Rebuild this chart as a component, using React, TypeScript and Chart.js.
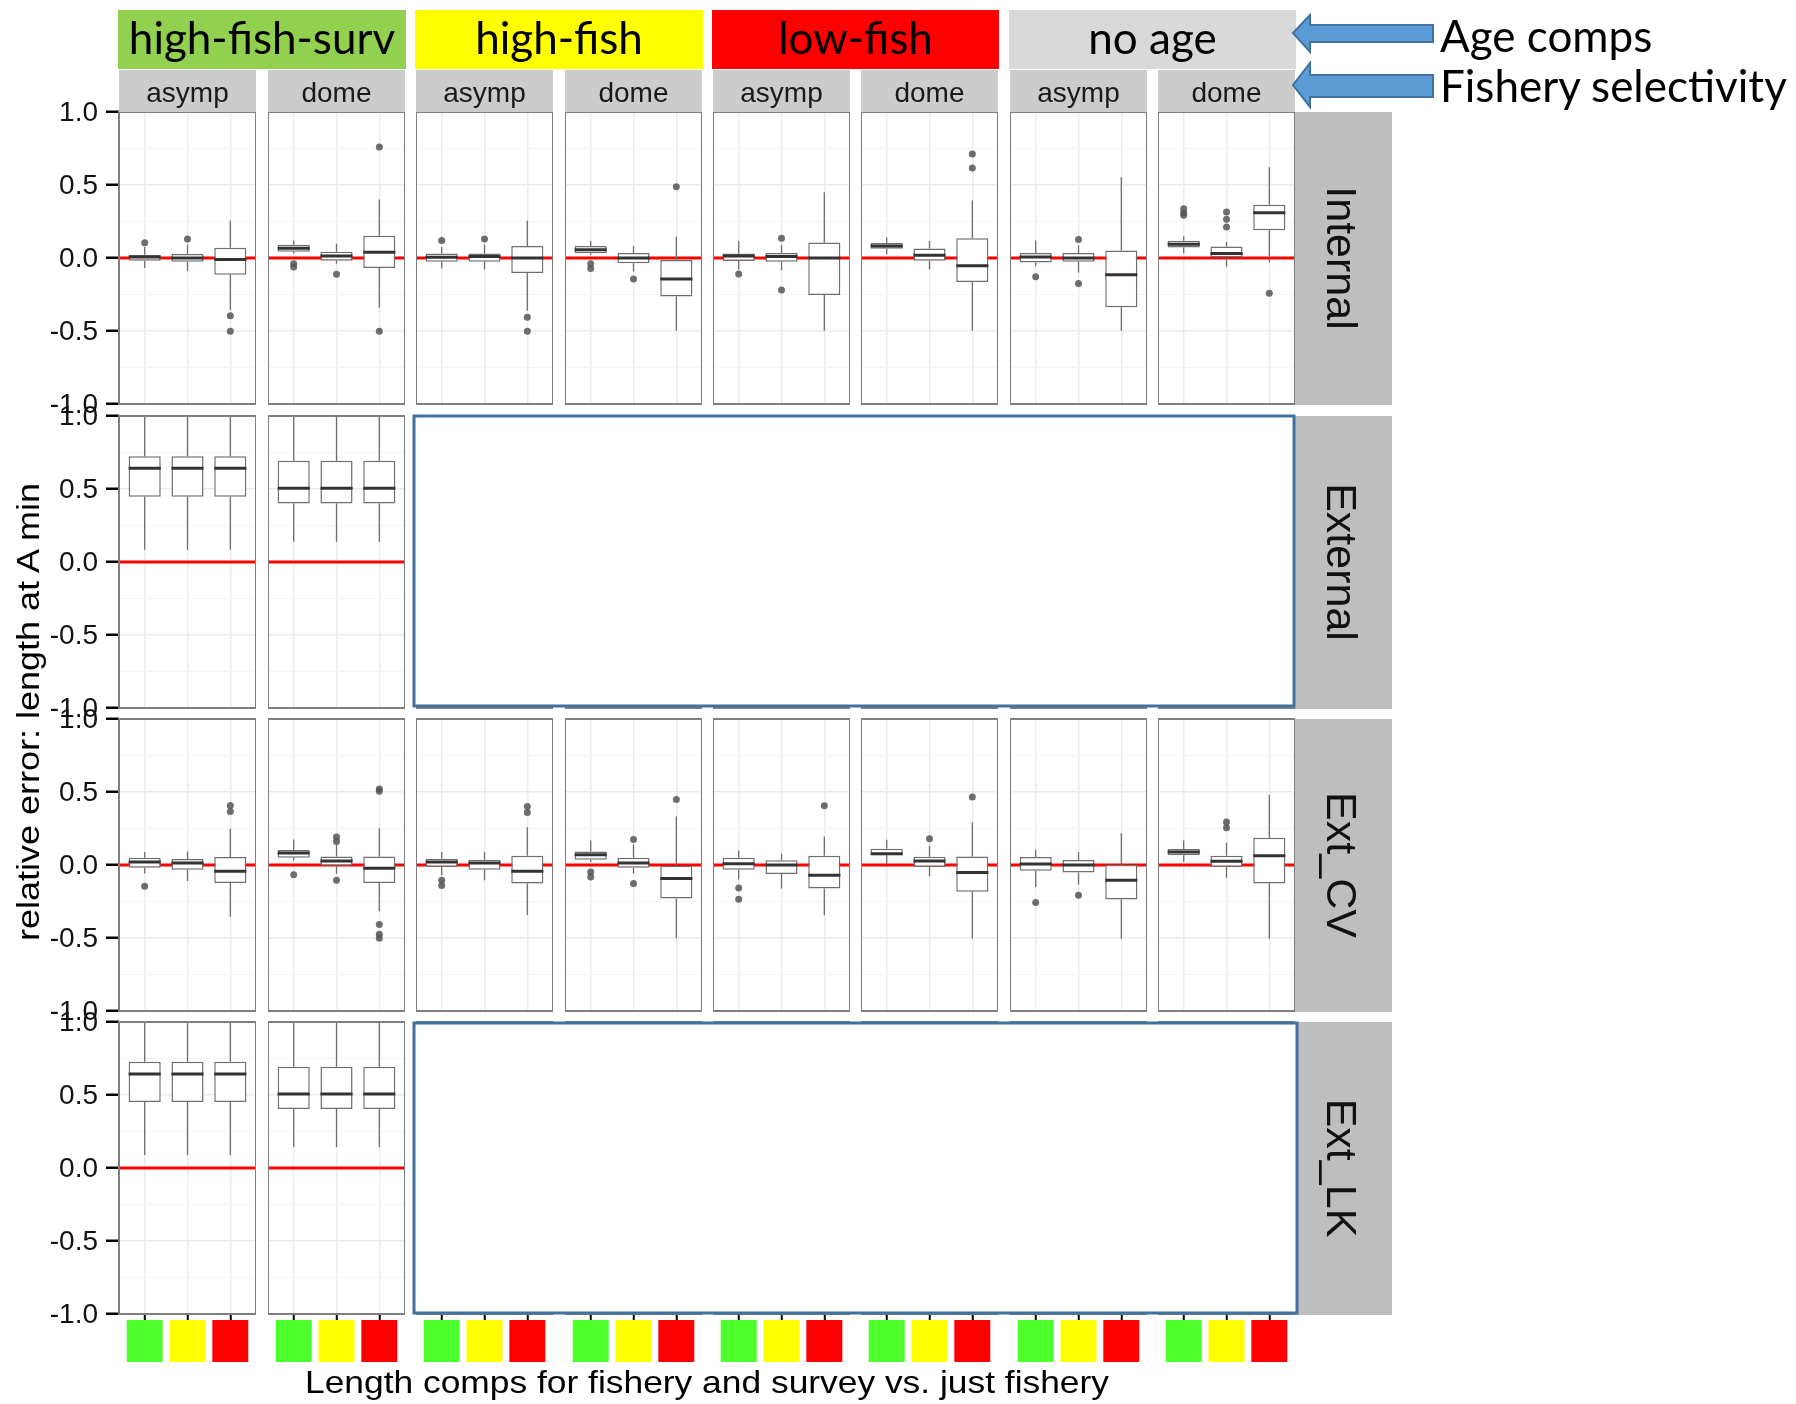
import React, { useEffect, useRef } from 'react';
import { Chart, registerables } from 'chart.js';

Chart.register(...registerables);

// ---------------- data ----------------
const ageComps = ['high-fish-surv', 'high-fish', 'low-fish', 'no age'];
const ageCompColors = ['#92D050', '#FFFF00', '#FF0000', '#D9D9D9'];
const selectivities = ['asymp', 'dome'];
const estimationMethods = ['Internal', 'External', 'Ext_CV', 'Ext_LK'];
const lengthCompLevels = ['high-fish-surv', 'high-fish', 'low-fish'];
const lengthCompColors = ['#4DFF2B', '#FFFF00', '#FF0000'];
const yMajorTicks = [-1, -0.5, 0, 0.5, 1];
const yMinorTicks = [-0.75, -0.25, 0.25, 0.75];
const yTitle = 'relative error: length at A min';
const xTitle = 'Length comps for fishery and survey vs. just fishery';
const annotationAge = 'Age comps';
const annotationSel = 'Fishery selectivity';

// box stats per panel (asymp/dome within each age-comp scenario), per length-comp level:
// [lower whisker, Q1, median, Q3, upper whisker]
const internalBoxes = [
  [[-0.068, -0.018, 0.007, 0.023, 0.075], [-0.089, -0.025, 0.0, 0.027, 0.09], [-0.357, -0.114, -0.01, 0.07, 0.257]],
  [[0.03, 0.043, 0.066, 0.091, 0.12], [-0.04, -0.018, 0.014, 0.043, 0.098], [-0.34, -0.068, 0.039, 0.152, 0.4]],
  [[-0.072, -0.025, 0.005, 0.03, 0.075], [-0.079, -0.025, 0.01, 0.03, 0.093], [-0.361, -0.102, 0.0, 0.082, 0.257]],
  [[0.02, 0.032, 0.057, 0.082, 0.116], [-0.093, -0.036, 0.0, 0.034, 0.082], [-0.498, -0.264, -0.143, -0.014, 0.145]],
  [[-0.079, -0.02, 0.014, 0.03, 0.116], [-0.084, -0.025, 0.01, 0.034, 0.091], [-0.498, -0.254, 0.0, 0.107, 0.45]],
  [[0.026, 0.063, 0.083, 0.103, 0.14], [-0.078, -0.019, 0.019, 0.065, 0.117], [-0.499, -0.165, -0.053, 0.135, 0.394]],
  [[-0.056, -0.03, 0.006, 0.035, 0.12], [-0.099, -0.026, 0.0, 0.035, 0.088], [-0.499, -0.338, -0.115, 0.051, 0.553]],
  [[0.031, 0.072, 0.094, 0.119, 0.149], [-0.06, 0.0, 0.031, 0.078, 0.11], [-0.031, 0.19, 0.31, 0.365, 0.622]],
];
const internalOutliers = [
  [[0.105], [0.13], [-0.395, -0.502]],
  [[-0.039, -0.061], [-0.111], [0.761, -0.502]],
  [[0.12], [0.13], [-0.406, -0.502]],
  [[-0.04, -0.072], [-0.143], [0.488]],
  [[-0.11], [0.136, -0.22], []],
  [[], [], [0.712, 0.617]],
  [[-0.128], [0.126, -0.174], []],
  [[0.338, 0.31, 0.292], [0.315, 0.265, 0.212], [-0.242]],
];

const externalBoxes = [
  [[0.084, 0.447, 0.642, 0.724, 1.0], [0.084, 0.447, 0.642, 0.724, 1.0], [0.084, 0.447, 0.642, 0.724, 1.0]],
  [[0.138, 0.4, 0.505, 0.694, 1.0], [0.138, 0.4, 0.505, 0.694, 1.0], [0.138, 0.4, 0.505, 0.694, 1.0]],
];
const externalOutliers = [
  [[], [], []],
  [[], [], []],
];

const extCVBoxes = [
  [[-0.059, -0.018, 0.02, 0.05, 0.089], [-0.109, -0.032, 0.014, 0.041, 0.093], [-0.355, -0.123, -0.043, 0.055, 0.248]],
  [[0.03, 0.05, 0.082, 0.102, 0.175], [-0.06, -0.005, 0.027, 0.059, 0.139], [-0.316, -0.123, -0.023, 0.059, 0.252]],
  [[-0.07, -0.014, 0.02, 0.043, 0.089], [-0.105, -0.032, 0.014, 0.036, 0.089], [-0.343, -0.127, -0.043, 0.064, 0.259]],
  [[0.02, 0.036, 0.07, 0.093, 0.168], [-0.059, -0.018, 0.014, 0.05, 0.141], [-0.502, -0.23, -0.093, 0.0, 0.332]],
  [[-0.1, -0.032, 0.009, 0.05, 0.1], [-0.161, -0.061, 0.0, 0.032, 0.077], [-0.345, -0.161, -0.07, 0.064, 0.195]],
  [[0.009, 0.066, 0.077, 0.111, 0.173], [-0.077, -0.014, 0.027, 0.057, 0.134], [-0.505, -0.184, -0.052, 0.059, 0.293]],
  [[-0.15, -0.039, 0.007, 0.055, 0.105], [-0.134, -0.052, 0.0, 0.034, 0.089], [-0.505, -0.236, -0.105, 0.002, 0.218]],
  [[0.02, 0.066, 0.089, 0.109, 0.168], [-0.089, -0.014, 0.025, 0.064, 0.152], [-0.505, -0.127, 0.064, 0.186, 0.48]],
];
const extCVOutliers = [
  [[-0.145], [], [0.407, 0.366]],
  [[-0.066], [0.191, 0.161, -0.105], [0.52, 0.505, -0.407, -0.475, -0.502]],
  [[-0.105, -0.141], [], [0.4, 0.359]],
  [[-0.048, -0.082], [0.175, -0.127], [0.448]],
  [[-0.157, -0.234], [], [0.405]],
  [[], [0.18], [0.466]],
  [[-0.257], [-0.207], []],
  [[], [0.295, 0.255], []],
];

const extLKBoxes = [
  [[0.089, 0.452, 0.643, 0.727, 1.0], [0.089, 0.452, 0.643, 0.727, 1.0], [0.089, 0.452, 0.643, 0.727, 1.0]],
  [[0.143, 0.404, 0.507, 0.693, 1.0], [0.143, 0.404, 0.507, 0.693, 1.0], [0.143, 0.404, 0.507, 0.693, 1.0]],
];
const extLKOutliers = [
  [[], [], []],
  [[], [], []],
];

const rowBoxes = [internalBoxes, externalBoxes, extCVBoxes, extLKBoxes];
const rowOutliers = [internalOutliers, externalOutliers, extCVOutliers, extLKOutliers];

// ---------------- layout ----------------
const X_MIN = 0.4;
const X_MAX = 3.6;
const COL_LEFT = [0, 1, 2, 3, 4, 5, 6, 7].map((i) => Math.round(119.3 + i * 148.4));
const PANEL_W = 137;
const ROW_TOP = [112, 416, 719, 1022];
const PANEL_H = 292;
const PAD = 20;
const X_AXIS_H = 54;
const SANS = "'Liberation Sans', Arial, sans-serif";
const LATO = "Lato, 'Open Sans', sans-serif";

const isMajor = (v: number) => yMajorTicks.some((m) => Math.abs(m - v) < 1e-9);

const boxPartsPlugin = {
  id: 'boxParts',
  afterDatasetsDraw(chart: any) {
    const { ctx, chartArea: a, scales } = chart;
    const x = scales.x;
    const y = scales.y;
    const ds = chart.data.datasets[1];
    const meta = chart.getDatasetMeta(1);
    ctx.save();
    ctx.beginPath();
    ctx.rect(a.left, a.top, a.right - a.left, a.bottom - a.top);
    ctx.clip();
    ds.data.forEach((d: any, i: number) => {
      const el = meta.data[i];
      if (!el) return;
      const half = el.width / 2;
      const cx = x.getPixelForValue(d.x);
      const [lo, q1, med, q3, hi] = d.stats;
      ctx.strokeStyle = '#6e6e6e';
      ctx.lineWidth = 1.3;
      ctx.beginPath();
      ctx.moveTo(cx, y.getPixelForValue(q3));
      ctx.lineTo(cx, y.getPixelForValue(hi));
      ctx.moveTo(cx, y.getPixelForValue(q1));
      ctx.lineTo(cx, y.getPixelForValue(lo));
      ctx.stroke();
      ctx.strokeStyle = '#333333';
      ctx.lineWidth = 3;
      ctx.beginPath();
      ctx.moveTo(cx - half, y.getPixelForValue(med));
      ctx.lineTo(cx + half, y.getPixelForValue(med));
      ctx.stroke();
    });
    ctx.restore();
  },
  afterDraw(chart: any, _args: any, opts: any) {
    const { ctx, chartArea: a, scales } = chart;
    ctx.save();
    ctx.strokeStyle = '#7f7f7f';
    ctx.lineWidth = 2;
    ctx.strokeRect(a.left, a.top, a.right - a.left, a.bottom - a.top);
    if (opts && opts.yLabels) {
      const y = scales.y;
      ctx.fillStyle = '#111111';
      ctx.font = `28px ${SANS}`;
      ctx.textAlign = 'right';
      ctx.textBaseline = 'middle';
      y.ticks.forEach((t: any) => {
        if (isMajor(t.value)) ctx.fillText(Number(t.value).toFixed(1), a.left - 21, y.getPixelForValue(t.value) + 1);
      });
    }
    if (opts && opts.squares) {
      const x = scales.x;
      lengthCompLevels.forEach((_, i) => {
        const cx = x.getPixelForValue(i + 1);
        const hw = x.getPixelForValue(i + 1 + 0.42) - cx;
        ctx.fillStyle = lengthCompColors[i];
        ctx.fillRect(cx - hw, a.bottom + 6, hw * 2, 42);
      });
    }
    ctx.restore();
  },
};

function Panel({ row, col }: { row: number; col: number }) {
  const ref = useRef<HTMLCanvasElement>(null);
  const first = col === 0;
  const bottom = row === 3;
  const axisW = first ? COL_LEFT[0] : 0;
  const left = first ? 0 : COL_LEFT[col];
  const top = ROW_TOP[row] - PAD;
  const width = axisW + PANEL_W;
  const height = PAD + PANEL_H + (bottom ? X_AXIS_H : PAD);

  useEffect(() => {
    const boxes = (rowBoxes[row][col] || []) as number[][];
    const outs = (rowOutliers[row][col] || []) as number[][];
    const chart = new Chart(ref.current as HTMLCanvasElement, {
      type: 'bar',
      data: {
        datasets: [
          {
            type: 'line',
            data: [
              { x: X_MIN, y: 0 },
              { x: X_MAX, y: 0 },
            ],
            borderColor: '#FF0000',
            borderWidth: 3,
            pointRadius: 0,
            pointHoverRadius: 0,
            order: 3,
          } as any,
          {
            type: 'bar',
            data: boxes.map((b, i) => ({ x: i + 1, y: [b[1], b[3]], stats: b })),
            backgroundColor: '#ffffff',
            borderColor: '#6e6e6e',
            borderWidth: 1.5,
            borderSkipped: false,
            barPercentage: 0.75,
            categoryPercentage: 1,
            grouped: false,
            order: 2,
          } as any,
          {
            type: 'scatter',
            data: outs.flatMap((o, i) => o.map((v) => ({ x: i + 1, y: v }))),
            pointRadius: 3.5,
            pointHoverRadius: 3.5,
            backgroundColor: 'rgba(85,85,85,0.85)',
            borderWidth: 0,
            order: 1,
          } as any,
        ],
      },
      options: {
        animation: false,
        responsive: false,
        maintainAspectRatio: false,
        events: [],
        layout: { autoPadding: false, padding: { top: PAD, bottom: bottom ? 0 : PAD, left: 0, right: 0 } },
        plugins: {
          legend: { display: false },
          tooltip: { enabled: false },
          title: { display: false },
          boxParts: { squares: bottom, yLabels: first },
        } as any,
        scales: {
          x: {
            type: 'linear',
            min: X_MIN,
            max: X_MAX,
            offset: false,
            afterBuildTicks: (s: any) => {
              s.ticks = lengthCompLevels.map((_, i) => ({ value: i + 1 }));
            },
            afterFit: (s: any) => {
              s.height = bottom ? X_AXIS_H : 0;
              s.paddingLeft = 0;
              s.paddingRight = 0;
            },
            ticks: { display: false },
            grid: {
              color: '#EBEBEB',
              lineWidth: 1.5,
              drawTicks: bottom,
              tickLength: 6,
              tickColor: '#000000',
              tickWidth: 2,
              offset: false,
            },
            border: { display: false },
          } as any,
          y: {
            type: 'linear',
            min: -1,
            max: 1,
            afterBuildTicks: (s: any) => {
              s.ticks = [...yMajorTicks, ...yMinorTicks].sort((p, q) => p - q).map((v) => ({ value: v }));
            },
            afterFit: (s: any) => {
              s.width = axisW;
              s.paddingTop = 0;
              s.paddingBottom = 0;
            },
            ticks: { display: false },
            grid: {
              color: (c: any) => (c.tick && isMajor(c.tick.value) ? '#EBEBEB' : '#F5F5F5'),
              lineWidth: (c: any) => (c.tick && isMajor(c.tick.value) ? 1.5 : 1),
              drawTicks: first,
              tickLength: 13,
              tickColor: (c: any) => (c.tick && isMajor(c.tick.value) ? '#000000' : 'rgba(0,0,0,0)'),
              tickWidth: 2.5,
            },
            border: { display: false },
          } as any,
        },
      },
      plugins: [boxPartsPlugin as any],
    });
    return () => chart.destroy();
  }, [row, col]);

  return (
    <canvas
      ref={ref}
      width={width}
      height={height}
      style={{ position: 'absolute', left, top, width, height, zIndex: 1 }}
    />
  );
}

export default function App() {
  const panels: React.ReactNode[] = [];
  for (let r = 0; r < estimationMethods.length; r++) {
    for (let c = 0; c < ageComps.length * selectivities.length; c++) {
      panels.push(<Panel key={`${r}-${c}`} row={r} col={c} />);
    }
  }
  const rightX = COL_LEFT[7] + PANEL_W;
  return (
    <div
      style={{
        position: 'absolute',
        left: 0,
        top: 0,
        width: 1796,
        height: 1404,
        background: '#ffffff',
        overflow: 'hidden',
      }}
    >
      {panels}
      <svg
        width={1796}
        height={1404}
        style={{ position: 'absolute', left: 0, top: 0, zIndex: 2, pointerEvents: 'none' }}
      >
        {ageComps.map((a, k) => {
          const x0 = COL_LEFT[2 * k] - 1;
          const x1 = COL_LEFT[2 * k + 1] + PANEL_W + 1;
          return (
            <g key={a}>
              <rect x={x0} y={10} width={x1 - x0} height={59} fill={ageCompColors[k]} />
              <text x={(x0 + x1) / 2} y={54} textAnchor="middle" fontFamily={LATO} fontSize={44} fill="#000">
                {a}
              </text>
            </g>
          );
        })}
        {COL_LEFT.map((x, c) => (
          <g key={'s' + c}>
            <rect x={x} y={70} width={PANEL_W} height={42} fill="#CCCCCC" />
            <text x={x + PANEL_W / 2} y={102} textAnchor="middle" fontFamily={SANS} fontSize={28} fill="#1a1a1a">
              {selectivities[c % 2]}
            </text>
          </g>
        ))}
        {estimationMethods.map((m, r) => (
          <g key={m}>
            <rect x={rightX} y={ROW_TOP[r]} width={97} height={PANEL_H + 1} fill="#BEBEBE" />
            <text
              transform={`translate(${rightX + 32}, ${ROW_TOP[r] + PANEL_H / 2}) rotate(90)`}
              textAnchor="middle"
              fontFamily={SANS}
              fontSize={43}
              fill="#111"
            >
              {m}
            </text>
          </g>
        ))}
        <rect x={414} y={416} width={880} height={290} fill="#ffffff" stroke="#41719C" strokeWidth={3} />
        <rect x={414} y={1023} width={883} height={290} fill="#ffffff" stroke="#41719C" strokeWidth={3} />
        <polygon
          points="1293,33 1310,15 1310,25 1433,25 1433,42 1310,42 1310,52"
          fill="#5B9BD5"
          stroke="#41719C"
          strokeWidth={2}
        />
        <polygon
          points="1293,85 1310,63 1310,75 1433,75 1433,97 1310,97 1310,107"
          fill="#5B9BD5"
          stroke="#41719C"
          strokeWidth={2}
        />
        <text x={1440} y={52} fontFamily={LATO} fontSize={44} fill="#000">
          {annotationAge}
        </text>
        <text x={1440} y={102} fontFamily={LATO} fontSize={44} fill="#000">
          {annotationSel}
        </text>
        <text
          x={707}
          y={1393}
          textAnchor="middle"
          fontFamily={SANS}
          fontSize={32}
          textLength={804}
          lengthAdjust="spacingAndGlyphs"
          fill="#000"
        >
          {xTitle}
        </text>
        <text
          transform="translate(39, 712) rotate(-90)"
          textAnchor="middle"
          fontFamily={SANS}
          fontSize={32}
          textLength={458}
          lengthAdjust="spacingAndGlyphs"
          fill="#000"
        >
          {yTitle}
        </text>
      </svg>
    </div>
  );
}
